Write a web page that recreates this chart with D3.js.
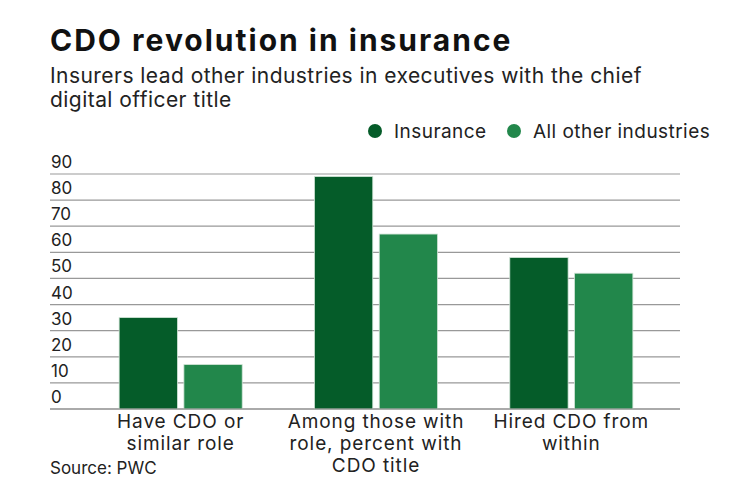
<!DOCTYPE html>
<html>
<head>
  <meta charset="UTF-8">
  <title>CDO revolution in insurance</title>
  <style>
    body {
      margin: 0;
      padding: 0;
      background: #fff;
    }
    svg {
      display: block;
      font-family: Inter, "Noto Sans", sans-serif;
    }
  </style>
</head>
<body>
  <svg></svg>

  <script src="https://d3js.org/d3.v7.min.js"></script>
  <script>
    // data
    let categories = [
      ["Have CDO or", "similar role"],
      ["Among those with", "role, percent with", "CDO title"],
      ["Hired CDO from", "within"]
    ];
    let seriesNames = ["Insurance", "All other industries"];
    let insurance = [35, 89, 58];
    let otherIndustries = [17, 67, 52];
    let yTicks = [0, 10, 20, 30, 40, 50, 60, 70, 80, 90];

    let colors = ["#055c29", "#22874b"];
    let width = 740, height = 482;

    let svg = d3.select("svg")
        .attr("width", width)
        .attr("height", height);

    // titles
    svg.append("text")
        .attr("x", 50).attr("y", 51)
        .attr("font-size", 30).attr("font-weight", 700)
        .attr("letter-spacing", 2)
        .attr("fill", "#111")
        .text("CDO revolution in insurance");

    let sub = svg.append("text")
        .attr("x", 50).attr("y", 83)
        .attr("font-size", 21)
        .attr("letter-spacing", 0.45)
        .attr("fill", "#222");
    sub.append("tspan").attr("x", 50).text("Insurers lead other industries in executives with the chief");
    sub.append("tspan").attr("x", 50).attr("dy", 24).text("digital officer title");

    // legend
    let legendX = [375, 514];
    let legend = svg.append("g").selectAll("g")
        .data(seriesNames)
        .enter().append("g")
        .attr("transform", (d, i) => "translate(" + legendX[i] + ",131)");
    legend.append("circle")
        .attr("r", 7)
        .attr("fill", (d, i) => colors[i]);
    legend.append("text")
        .attr("x", 19).attr("y", 7)
        .attr("font-size", 19)
        .attr("letter-spacing", 0.45)
        .attr("fill", "#222")
        .text(d => d);

    // scales
    let y = d3.scaleLinear().domain([0, 90]).range([409, 174]);

    let x0 = d3.scaleBand()
        .domain(d3.range(categories.length))
        .range([83, 669])
        .paddingInner(0.37)
        .paddingOuter(0.185);

    let x1 = d3.scaleBand()
        .domain(seriesNames)
        .range([0, x0.bandwidth()])
        .paddingInner(0.1);

    // gridlines + tick labels
    let grid = svg.append("g").selectAll("g")
        .data(yTicks)
        .enter().append("g");
    grid.append("line")
        .attr("x1", 50).attr("x2", 680)
        .attr("y1", d => y(d)).attr("y2", d => y(d))
        .attr("stroke", "#999")
        .attr("stroke-width", 1.2);
    grid.append("text")
        .attr("x", 51)
        .attr("y", d => y(d) - 6)
        .attr("font-size", 17)
        .attr("fill", "#222")
        .text(d => d);

    // bars
    let values = [insurance, otherIndustries];
    let groups = svg.append("g").selectAll("g")
        .data(categories)
        .enter().append("g")
        .attr("transform", (d, i) => "translate(" + x0(i) + ",0)");

    groups.selectAll("rect")
        .data((d, i) => seriesNames.map((s, j) => ({ series: s, idx: j, value: values[j][i] })))
        .enter().append("rect")
        .attr("x", d => x1(d.series))
        .attr("width", x1.bandwidth())
        .attr("y", d => y(d.value))
        .attr("height", d => y(0) - y(d.value))
        .attr("fill", d => colors[d.idx])
        .attr("stroke", "#cfe3d5")
        .attr("stroke-width", 0.8);

    // baseline on top of bars
    svg.append("line")
        .attr("x1", 50).attr("x2", 680)
        .attr("y1", y(0)).attr("y2", y(0))
        .attr("stroke", "#888")
        .attr("stroke-width", 1.2);

    // category labels
    let labels = svg.append("g").selectAll("text")
        .data(categories)
        .enter().append("text")
        .attr("text-anchor", "middle")
        .attr("font-size", 19)
        .attr("letter-spacing", 0.9)
        .attr("fill", "#222")
        .attr("y", 428);
    labels.selectAll("tspan")
        .data((d, i) => d.map(line => ({ line: line, i: i })))
        .enter().append("tspan")
        .attr("x", d => x0(d.i) + x0.bandwidth() / 2)
        .attr("dy", (d, k) => k == 0 ? 0 : 22)
        .text(d => d.line);

    // source
    svg.append("text")
        .attr("x", 50).attr("y", 474)
        .attr("font-size", 17)
        .attr("fill", "#222")
        .text("Source: PWC");
  </script>
</body>
</html>
